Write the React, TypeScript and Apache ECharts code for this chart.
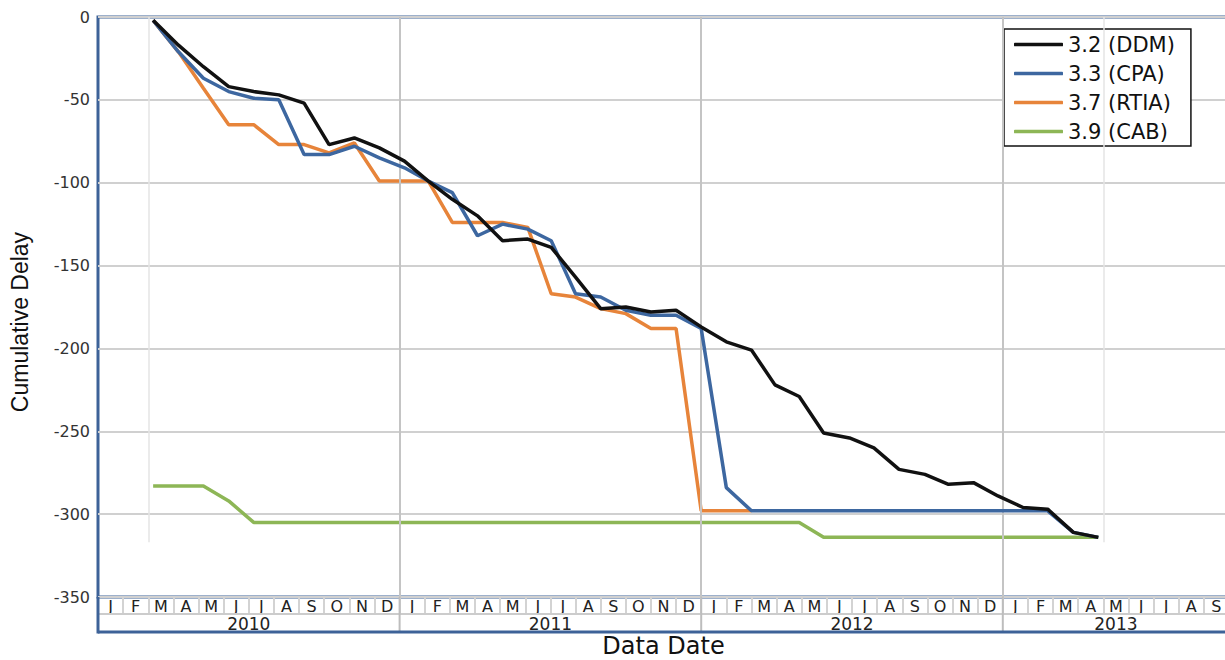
import React, { useEffect, useRef } from 'react';
import * as echarts from 'echarts';

// Data dates (one status per month) and cumulative delay values
const dataDates = [
  '2010-03-07', '2010-04-07', '2010-05-07', '2010-06-07', '2010-07-07', '2010-08-07',
  '2010-09-07', '2010-10-07', '2010-11-07', '2010-12-07', '2011-01-07', '2011-02-05',
  '2011-03-04', '2011-04-04', '2011-05-04', '2011-06-04', '2011-07-02', '2011-08-01',
  '2011-09-01', '2011-10-01', '2011-11-01', '2011-12-01', '2012-01-01', '2012-02-01',
  '2012-03-01', '2012-03-30', '2012-04-28', '2012-05-28', '2012-06-28', '2012-07-28',
  '2012-08-28', '2012-09-28', '2012-10-27', '2012-11-26', '2012-12-26', '2013-01-26',
  '2013-02-23', '2013-03-26', '2013-04-25',
];

const ddm = [
  -2, -17, -30, -42, -45, -47, -52, -77, -73, -79, -87, -99, -110, -120, -135, -134,
  -139, -157, -176, -175, -178, -177, -187, -196, -201, -222, -229, -251, -254, -260,
  -273, -276, -282, -281, -289, -296, -297, -311, -314,
];

const cpa = [
  -2, -21, -37, -45, -49, -50, -83, -83, -78, -85, -91, -99, -106, -132, -125, -128,
  -135, -167, -169, -177, -180, -180, -188, -284, -298, -298, -298, -298, -298, -298,
  -298, -298, -298, -298, -298, -298, -298, -311, -314,
];

const rtia: (number | null)[] = [
  -2, -21, -43, -65, -65, -77, -77, -82, -76, -99, -99, -99, -124, -124, -124, -127,
  -167, -169, -176, -179, -188, -188, -298, -298, -298, null, null, null, null, null,
  null, null, null, null, null, null, null, null, null,
];

const cab = [
  -283, -283, -283, -292, -305, -305, -305, -305, -305, -305, -305, -305, -305, -305,
  -305, -305, -305, -305, -305, -305, -305, -305, -305, -305, -305, -305, -305, -314,
  -314, -314, -314, -314, -314, -314, -314, -314, -314, -314, -314,
];

const seriesNames = ['3.2 (DDM)', '3.3 (CPA)', '3.7 (RTIA)', '3.9 (CAB)'];
const seriesColors = ['#111111', '#3d67a0', '#e7843a', '#8db656'];

const monthLetters = ['J', 'F', 'M', 'A', 'M', 'J', 'J', 'A', 'S', 'O', 'N', 'D'];
const years = ['2010', '2011', '2012', '2013'];
const firstYear = 2010;
const monthsShown = 45; // Jan 2010 .. Sep 2013

const yMin = -350;
const yMax = 0;
const yInterval = 50;

// first and last data date markers (light verticals)
const dataStartMonth = 2; // Mar 2010
const dataEndMonth = 40; // May 2013
const markerBottom = -317;

function monthPos(d: string): number {
  const [y, m, day] = d.split('-').map(Number);
  const dim = new Date(y, m, 0).getDate();
  return (y - firstYear) * 12 + (m - 1) + (day - 1) / dim;
}

function toPoints(values: (number | null)[]) {
  const out: [number, number][] = [];
  values.forEach((v, i) => {
    if (v !== null) out.push([monthPos(dataDates[i]), v]);
  });
  return out;
}

export default function App() {
  const ref = useRef<HTMLDivElement>(null);

  useEffect(() => {
    if (!ref.current) return;
    const chart = echarts.init(ref.current, undefined, { renderer: 'svg' });

    const monthTicks = Array.from({ length: monthsShown + 1 }, (_, i) => i);
    const monthCenters = Array.from({ length: monthsShown }, (_, i) => i + 0.5);
    const yearBounds = years.map((_, i) => i * 12).filter((v) => v > 0 && v < monthsShown);
    const yearCenters = years.map((_, i) => {
      const s = i * 12;
      const e = Math.min(s + 12, monthsShown);
      return (s + e) / 2;
    });

    const font = 'DejaVu Sans, Arial, sans-serif';
    const blue = '#3d6298';

    const allSeries = [ddm, cpa, rtia, cab];
    const zs = [6, 5, 4, 3];

    const series: any[] = allSeries.map((vals, i) => ({
      name: seriesNames[i],
      type: 'line',
      data: toPoints(vals),
      symbol: 'none',
      z: zs[i],
      lineStyle: { color: seriesColors[i], width: 3.5 },
      itemStyle: { color: seriesColors[i] },
    }));

    // gridline series for vertical year lines and data-range markers
    series.push({
      name: 'grid-lines',
      type: 'line',
      data: [],
      z: 1,
      silent: true,
      markLine: {
        silent: true,
        symbol: ['none', 'none'],
        label: { show: false },
        animation: false,
        data: [
          ...yearBounds.map((v) => ({ xAxis: v, lineStyle: { color: '#c4c4c4', width: 2, type: 'solid' } })),
          [
            { coord: [dataStartMonth, yMax], lineStyle: { color: '#e4e4e4', width: 1.5, type: 'solid' } },
            { coord: [dataStartMonth, markerBottom] },
          ],
          [
            { coord: [dataEndMonth, yMax], lineStyle: { color: '#e4e4e4', width: 1.5, type: 'solid' } },
            { coord: [dataEndMonth, markerBottom] },
          ],
        ],
      },
    });

    chart.setOption({
      animation: false,
      backgroundColor: '#ffffff',
      grid: {
        left: 98,
        top: 17,
        right: -4,
        bottom: 63,
        outerBoundsMode: 'none',
        containLabel: false,
        show: true,
        borderColor: blue,
        borderWidth: 3,
        backgroundColor: 'transparent',
      },
      legend: {
        orient: 'vertical',
        left: 1004,
        top: 29,
        padding: [5, 16, 4, 10],
        icon: 'roundRect',
        itemWidth: 49,
        itemHeight: 3.5,
        itemGap: 8,
        borderColor: '#111',
        borderWidth: 1.5,
        borderRadius: 0,
        backgroundColor: '#ffffff',
        data: seriesNames,
        textStyle: { fontSize: 21, fontFamily: font, color: '#111' },
      },
      xAxis: {
        type: 'value',
        min: 0,
        max: monthsShown,
        position: 'bottom',
        axisLine: { show: false, onZero: false },
        axisTick: {
          show: true,
          customValues: monthTicks,
          length: 17,
          lineStyle: { color: '#d3d3d3', width: 2 },
        },
        axisLabel: {
          customValues: monthCenters,
          formatter: (v: number) => monthLetters[Math.floor(v) % 12],
          margin: 1,
          fontSize: 16,
          fontFamily: font,
          color: '#222',
        },
        splitLine: { show: false },
        name: 'Data Date',
        nameLocation: 'middle',
        nameGap: 37,
        nameTextStyle: { fontSize: 24, fontFamily: font, color: '#111', lineHeight: 24 },
      },
      yAxis: {
        type: 'value',
        min: yMin,
        max: yMax,
        interval: yInterval,
        axisLine: { show: false, onZero: false },
        axisTick: { show: false },
        axisLabel: { fontSize: 16, fontFamily: font, color: '#333', margin: 8 },
        splitLine: { show: true, lineStyle: { color: '#d0d0d0', width: 2 } },
      },
      series,
    });

    // Year row under the month row, positioned through the axis scales
    const px = (m: number) => chart.convertToPixel({ xAxisIndex: 0 }, m) as number;
    const py = (v: number) => chart.convertToPixel({ yAxisIndex: 0 }, v) as number;
    const rowTop = py(yMin);
    const monthRowBottom = rowTop + 17;
    const yearRowBottom = rowTop + 35;
    const xLeft = px(0);
    const xRight = px(monthsShown);

    const graphics: any[] = [
      {
        type: 'line',
        shape: { x1: xLeft, y1: monthRowBottom, x2: xRight, y2: monthRowBottom },
        style: { stroke: '#cccccc', lineWidth: 2 },
        z: 8,
      },
      {
        type: 'line',
        shape: { x1: xLeft, y1: yearRowBottom, x2: xRight + 4, y2: yearRowBottom },
        style: { stroke: blue, lineWidth: 3 },
        z: 10,
      },
      {
        type: 'line',
        shape: { x1: xLeft, y1: rowTop, x2: xLeft, y2: yearRowBottom + 1.5 },
        style: { stroke: blue, lineWidth: 3 },
        z: 10,
      },
      ...yearBounds.map((b) => ({
        type: 'line',
        shape: { x1: px(b), y1: rowTop, x2: px(b), y2: yearRowBottom },
        style: { stroke: '#bdbdbd', lineWidth: 2 },
        z: 9,
      })),
      ...yearCenters.map((c, i) => ({
        type: 'text',
        x: px(c),
        y: (monthRowBottom + yearRowBottom) / 2 + 1,
        style: {
          text: years[i],
          fontSize: 17,
          fontFamily: font,
          fill: '#222',
          align: 'center',
          verticalAlign: 'middle',
        },
        z: 10,
      })),
      {
        type: 'text',
        x: 20,
        y: 322,
        rotation: Math.PI / 2,
        style: {
          text: 'Cumulative Delay',
          fontSize: 23,
          fontFamily: 'Liberation Sans, Arial, sans-serif',
          fill: '#111',
          align: 'center',
          verticalAlign: 'middle',
        },
      },
    ];

    chart.setOption({ graphic: graphics });

    return () => chart.dispose();
  }, []);

  return (
    <div
      ref={ref}
      style={{ position: 'fixed', left: 0, top: 0, width: 1225, height: 660, background: '#fff' }}
    />
  );
}
